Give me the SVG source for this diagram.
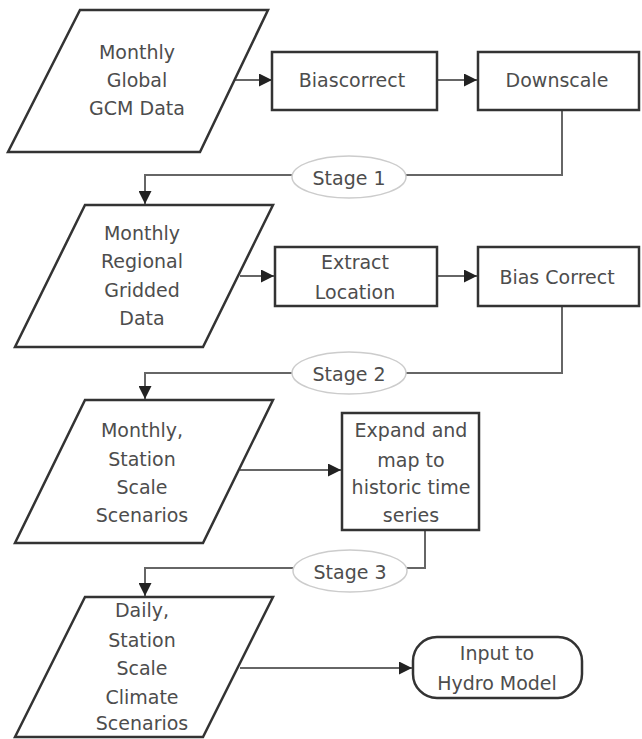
<svg xmlns="http://www.w3.org/2000/svg" width="642" height="739" viewBox="0 0 642 739">
<style>
.shape{fill:#fff;stroke:#333;stroke-width:2.5}
.stage{fill:#fff;stroke:#ccc;stroke-width:1.5}
.conn{fill:none;stroke:#666;stroke-width:2}
text{font-family:"DejaVu Sans",sans-serif;font-size:19px;fill:#4d4d4d;text-anchor:middle;dominant-baseline:central}
</style>
<defs>
<marker id="arr" viewBox="0 0 13 13" refX="13" refY="6.5" markerWidth="13" markerHeight="13" markerUnits="userSpaceOnUse" orient="auto">
<path d="M0,0 L13,6.5 L0,13 Z" fill="#222"/>
</marker>
</defs>
<rect width="642" height="739" fill="#fff"/>
<g id="connectors">
<line class="conn" x1="235" y1="80" x2="272" y2="80" marker-end="url(#arr)"/>
<line class="conn" x1="437" y1="80" x2="477" y2="80" marker-end="url(#arr)"/>
<path class="conn" d="M562,110 V175 H145 V204" marker-end="url(#arr)"/>
<line class="conn" x1="240" y1="276" x2="274" y2="276" marker-end="url(#arr)"/>
<line class="conn" x1="437" y1="276" x2="477" y2="276" marker-end="url(#arr)"/>
<path class="conn" d="M562,306 V373 H145 V399" marker-end="url(#arr)"/>
<line class="conn" x1="240" y1="470" x2="341" y2="470" marker-end="url(#arr)"/>
<path class="conn" d="M425,530 V568 H145 V596" marker-end="url(#arr)"/>
<line class="conn" x1="240" y1="668" x2="412" y2="668" marker-end="url(#arr)"/>
</g>
<g id="stage1"><ellipse class="stage" cx="349" cy="177" rx="57" ry="21"/><text x="349" y="178">Stage 1</text></g>
<g id="stage2"><ellipse class="stage" cx="349" cy="373" rx="57" ry="21"/><text x="349" y="374">Stage 2</text></g>
<g id="stage3"><ellipse class="stage" cx="350" cy="571" rx="57" ry="21"/><text x="350" y="572">Stage 3</text></g>
<g id="gcm">
<polygon class="shape" points="80,10 268,10 200,152 8,152"/>
<text x="137" y="52">Monthly</text><text x="137" y="80">Global</text><text x="137" y="108">GCM Data</text>
</g>
<g id="biascorrect">
<rect class="shape" x="272" y="52" width="165" height="58"/>
<text x="352" y="80">Biascorrect</text>
</g>
<g id="downscale">
<rect class="shape" x="478" y="52" width="161" height="58"/>
<text x="557" y="80">Downscale</text>
</g>
<g id="regional">
<polygon class="shape" points="85,205 273,205 203,347 15,347"/>
<text x="142" y="233">Monthly</text><text x="142" y="261">Regional</text><text x="142" y="290">Gridded</text><text x="142" y="318">Data</text>
</g>
<g id="extract">
<rect class="shape" x="275" y="247" width="162" height="59"/>
<text x="355" y="262">Extract</text><text x="355" y="292">Location</text>
</g>
<g id="biascorrect2">
<rect class="shape" x="478" y="247" width="161" height="59"/>
<text x="557" y="277">Bias Correct</text>
</g>
<g id="station">
<polygon class="shape" points="85,400 273,400 203,543 15,543"/>
<text x="142" y="430">Monthly,</text><text x="142" y="459">Station</text><text x="142" y="487">Scale</text><text x="142" y="515">Scenarios</text>
</g>
<g id="expand">
<rect class="shape" x="342" y="413" width="137" height="117"/>
<text x="411" y="430">Expand and</text><text x="411" y="460">map to</text><text x="411" y="487">historic time</text><text x="411" y="515">series</text>
</g>
<g id="daily">
<polygon class="shape" points="85,597 273,597 203,737 15,737"/>
<text x="142" y="610">Daily,</text><text x="142" y="640">Station</text><text x="142" y="668">Scale</text><text x="142" y="697">Climate</text><text x="142" y="723">Scenarios</text>
</g>
<g id="hydro">
<rect class="shape" x="413" y="637" width="169" height="61" rx="24" ry="24"/>
<text x="497" y="653">Input to</text><text x="497" y="683">Hydro Model</text>
</g>
</svg>
